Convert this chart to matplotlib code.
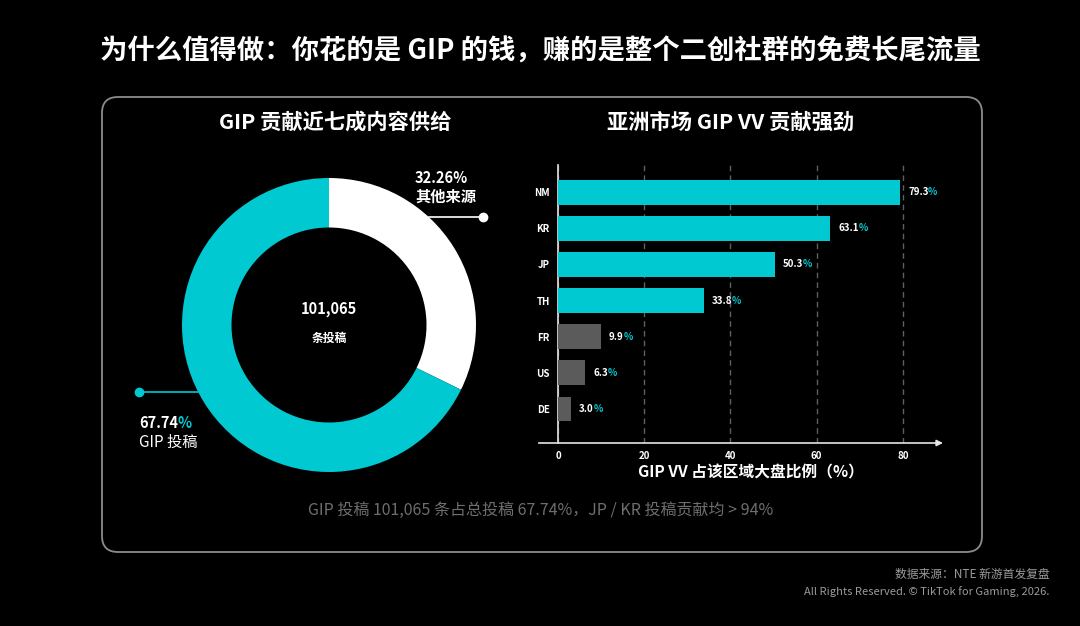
import matplotlib
matplotlib.use("Agg")
import matplotlib.pyplot as plt
from matplotlib.patches import FancyBboxPatch
import numpy as np

plt.rcParams['font.family'] = ['Noto Sans CJK SC', 'DejaVu Sans']

TEAL = '#00C9D2'
GREY_BAR = '#5b5b5b'
CAPTION_GREY = '#6e6e6e'

# donut: share of posts
share_labels = ['其他来源', 'GIP 投稿']
share_values = [32.26, 67.74]
total_posts = '101,065'

# bars: GIP VV share of regional total
regions = ['NM', 'KR', 'JP', 'TH', 'FR', 'US', 'DE']
vv_share = [79.3, 63.1, 50.3, 33.8, 9.9, 6.3, 3.0]
asia = ['NM', 'KR', 'JP', 'TH']
xticks = [0, 20, 40, 60, 80]

W, H = 1080, 626
fig = plt.figure(figsize=(W / 100, H / 100), dpi=100, facecolor='black')

# background axes in pixel coordinates for the frame and free text
bg = fig.add_axes([0, 0, 1, 1])
bg.set_xlim(0, W)
bg.set_ylim(H, 0)
bg.axis('off')

bg.add_patch(FancyBboxPatch((102, 97), 880, 455,
                            boxstyle='round,pad=0,rounding_size=16',
                            fc='none', ec='#8c8c8c', lw=1.3))

bg.text(540, 52, '为什么值得做：你花的是 GIP 的钱，赚的是整个二创社群的免费长尾流量',
        color='white', fontsize=19.7, fontweight='bold', ha='center', va='center')
bg.text(335, 122, 'GIP 贡献近七成内容供给', color='white', fontsize=15.3,
        fontweight='bold', ha='center', va='center')
bg.text(731, 122, '亚洲市场 GIP VV 贡献强劲', color='white', fontsize=15.3,
        fontweight='bold', ha='center', va='center')


def pct_label(axes, txt, xy, **kw):
    # white number followed by a teal % sign
    num = axes.annotate(txt, xy, color='white', ha='left', va='center', **kw)
    kw.pop('xytext', None)
    kw.pop('textcoords', None)
    axes.annotate('%', xy=(1, 0.5), xycoords=num, xytext=(-0.5, 0),
                  textcoords='offset pixels', color=TEAL, ha='left', va='center', **kw)


# ---- donut ----
cx, cy, half = 329, 325, 150
pax = fig.add_axes([(cx - half) / W, 1 - (cy + half) / H, 2 * half / W, 2 * half / H])
pax.pie(share_values, colors=['white', TEAL], startangle=90, counterclock=False,
        radius=0.98, wedgeprops=dict(width=0.33, edgecolor='none'))
pax.set_xlim(-1, 1)
pax.set_ylim(-1, 1)
pax.axis('off')

# leader lines
for ang, dot_x, col in [(47, 1.027, 'white'), (207, -1.267, TEAL)]:
    a = np.deg2rad(ang)
    ex, ey = 0.98 * np.cos(a), 0.98 * np.sin(a)
    pax.plot([ex, dot_x], [ey, ey], color=col, lw=1.2, clip_on=False)
    pax.plot([dot_x], [ey], 'o', color=col, ms=6, clip_on=False)

pax.text(0, 0.107, total_posts, color='white', fontsize=10.5, fontweight='bold',
         ha='center', va='center')
pax.text(0, -0.087, '条投稿', color='white', fontsize=8.5, fontweight='bold',
         ha='center', va='center')

bg.text(415, 178, f'{share_values[0]:.2f}%', color='white', fontsize=10.5,
        fontweight='bold', ha='left', va='center')
bg.text(415, 197, share_labels[0], color='white', fontsize=11, fontweight='bold',
        ha='left', va='center')
pct_label(bg, f'{share_values[1]:.2f}', (139, 423), fontsize=10.5, fontweight='bold')
bg.text(139, 442, share_labels[1], color='white', fontsize=11, ha='left', va='center')

# ---- bars ----
ax = fig.add_axes([558 / W, 1 - 443 / H, (943 - 558) / W, (443 - 165) / H])
ax.set_facecolor('none')
ypos = np.arange(len(regions))
colors = [TEAL if r in asia else GREY_BAR for r in regions]
ax.barh(ypos, vv_share, height=0.69, color=colors, zorder=3)
ax.set_xlim(0, 89.3)
ax.set_ylim(6.94, -0.75)
ax.set_yticks(ypos, regions)
ax.set_xticks(xticks)
ax.tick_params(length=0, colors='white', labelsize=7)
ax.tick_params(axis='y', pad=6)
ax.tick_params(axis='x', pad=6)
for lab in ax.get_xticklabels() + ax.get_yticklabels():
    lab.set_fontweight('bold')
ax.set_axisbelow(True)
ax.grid(axis='x', ls=(0, (4, 3)), color='#606060', lw=1)
ax.grid(axis='y', visible=False)
for s in ['top', 'right', 'bottom']:
    ax.spines[s].set_visible(False)
ax.spines['left'].set_color('#e6e6e6')
ax.spines['left'].set_linewidth(1.2)
ax.annotate('', xy=(1, 0), xytext=(-0.05, 0), xycoords='axes fraction',
            arrowprops=dict(arrowstyle='-|>', color='#e6e6e6', lw=1.2,
                            mutation_scale=9, shrinkA=0, shrinkB=0),
            annotation_clip=False)
ax.set_xlabel('GIP VV 占该区域大盘比例（%）', color='white', fontsize=11.3,
              fontweight='bold', labelpad=2)

for y, v in zip(ypos, vv_share):
    pct_label(ax, f'{v:.1f}', (v, y), xytext=(6, 0), textcoords='offset points',
              fontsize=7, fontweight='bold')

# caption and footer
bg.text(541, 510, 'GIP 投稿 101,065 条占总投稿 67.74%，JP / KR 投稿贡献均 > 94%',
        color=CAPTION_GREY, fontsize=11.5, ha='center', va='center')
bg.text(1050, 574, '数据来源：NTE 新游首发复盘', color='#9a9a9a', fontsize=8.5,
        ha='right', va='center')
bg.text(1050, 592, 'All Rights Reserved. © TikTok for Gaming, 2026.', color='#9a9a9a',
        fontsize=8, ha='right', va='center')

fig.savefig('out.png', dpi=100, facecolor='black')
